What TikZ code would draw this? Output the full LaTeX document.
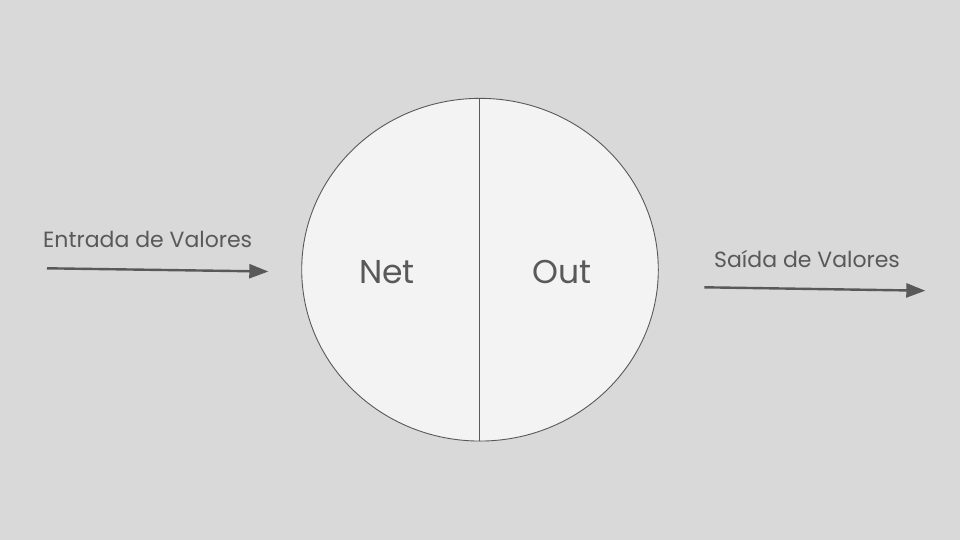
\documentclass[tikz,border=0pt]{standalone}
\usepackage{fontspec}
\setmainfont{Poppins}
\usetikzlibrary{arrows.meta,shapes.geometric}
\definecolor{bg}{HTML}{D9D9D9}
\definecolor{fillc}{HTML}{F3F3F3}
\definecolor{ink}{HTML}{595959}
\tikzset{
  lbl/.style={text=ink, font=\fontsize{22}{26}\selectfont, inner sep=0pt, anchor=base west},
  big/.style={text=ink, font=\fontsize{33}{38}\selectfont, inner sep=0pt, anchor=base},
  flow/.style={draw=ink, line width=2.4pt, -{Triangle[length=19pt,width=14pt]}}
}
\begin{document}
\begin{tikzpicture}[x=1pt,y=-1pt]
\fill[bg] (0,0) rectangle (960,540);
\useasboundingbox (0,0) rectangle (960,540);
\node[draw=ink, fill=fillc, line width=0.9pt, ellipse, minimum width=356.6pt, minimum height=342.7pt, inner sep=0pt] (c) at (480,269.7) {};
\coordinate (ctop) at (479.3,98.3);
\coordinate (cbot) at (479.3,441);
\draw[ink, line width=0.9pt] (ctop) -- (cbot);
\node[big] (net) at (387,283.3) {Net};
\node[big] (out) at (562,283.3) {Out};
\node[lbl] (inl) at (43,247.3) {Entrada de Valores};
\node[lbl] (outl) at (714,267.3) {Saída de Valores};
\coordinate (a1) at (47,268.3);
\coordinate (a2) at (268.3,271.5);
\coordinate (b1) at (704.3,287.3);
\coordinate (b2) at (925.3,290.7);
\draw[flow] (a1) -- (a2);
\draw[flow] (b1) -- (b2);
\end{tikzpicture}
\end{document}
